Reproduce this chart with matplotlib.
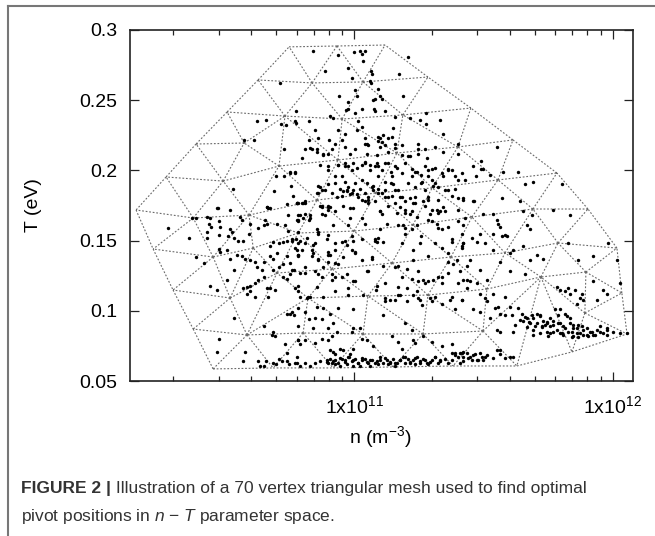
import numpy as np
import matplotlib.pyplot as plt
import matplotlib.tri as mtri
from matplotlib.lines import Line2D

plt.rcParams['font.family'] = ['Liberation Sans', 'DejaVu Sans']
plt.rcParams['mathtext.fontset'] = 'custom'
plt.rcParams['mathtext.rm'] = 'Liberation Sans'
plt.rcParams['mathtext.it'] = 'Liberation Sans:italic'

# mesh vertices (log10 n, T)
hull_logn = [10.749, 10.934, 11.120, 11.286, 11.452, 11.615, 11.785, 11.905, 12.017,
             12.036, 12.056, 11.843, 11.630, 11.383, 11.151, 10.919, 10.687, 10.455,
             10.378, 10.300, 10.223, 10.157, 10.273, 10.389, 10.509, 10.629]
hull_T = [0.288, 0.2886, 0.2893, 0.2665, 0.2444, 0.2217, 0.1981, 0.1725, 0.1447,
          0.1127, 0.0835, 0.0707, 0.0607, 0.0607, 0.060, 0.0593, 0.0593, 0.0586,
          0.0870, 0.1148, 0.144, 0.1718, 0.1953, 0.2188, 0.2416, 0.2644]
inner_logn = [10.838, 11.035, 10.733, 10.954, 11.189, 10.575, 10.710, 10.494, 10.938,
              11.166, 11.402, 11.085, 11.302, 11.557, 10.378, 10.594, 10.857, 11.456,
              11.692, 10.455, 10.610, 10.702, 11.0, 11.228, 11.584, 11.789, 10.915,
              11.147, 11.375, 10.521, 10.822, 11.054, 11.286, 11.514, 11.723, 11.897,
              10.586, 10.803, 11.035, 11.267, 11.499, 11.893, 10.784]
inner_T = [0.2623, 0.263, 0.2387, 0.2366, 0.2395, 0.2195, 0.2031, 0.1924, 0.2074,
           0.2124, 0.2167, 0.1839, 0.1875, 0.1932, 0.1661, 0.1682, 0.1789, 0.1668,
           0.1725, 0.1383, 0.1447, 0.1269, 0.1568, 0.1611, 0.1412, 0.1483, 0.1298,
           0.134, 0.1383, 0.1091, 0.1091, 0.1105, 0.1112, 0.1155, 0.1241, 0.1276,
           0.0828, 0.0842, 0.0835, 0.0835, 0.0856, 0.0984, 0.1554]

# sampled (log10 n, T) points
pts_top = [
    (10.714, .262), (10.776, .242), (10.776, .234), (10.625, .235), (10.660, .236), (10.575, .222),
    (10.613, .222), (10.718, .233), (10.737, .232), (10.729, .215), (10.698, .196), (10.729, .196),
    (10.753, .198), (10.772, .198), (10.532, .187), (10.756, .189), (10.691, .185), (10.764, .182),
    (10.780, .177), (10.664, .174), (10.675, .173), (10.470, .173),
    (10.843, .285), (10.937, .282), (11.001, .284), (11.023, .285), (11.030, .283), (11.043, .285),
    (11.036, .278), (10.888, .271), (10.978, .273), (11.066, .271), (11.068, .269), (11.174, .269),
    (11.208, .281), (10.991, .266), (11.062, .264), (11.066, .262), (11.094, .258), (11.004, .257),
    (10.943, .253), (11.010, .253), (10.978, .249), (11.075, .250), (11.081, .251), (11.101, .253),
    (11.110, .251), (11.030, .244), (11.077, .244), (11.081, .242), (11.120, .242), (11.004, .241),
    (10.907, .239), (10.969, .243), (10.978, .244), (10.920, .237), (10.824, .235), (10.772, .235),
    (10.849, .229), (10.937, .229), (10.965, .226), (11.010, .229), (11.014, .235), (11.030, .231),
    (11.043, .223), (11.049, .219), (11.056, .218), (11.094, .224), (11.101, .223), (11.114, .225),
    (11.107, .220), (11.133, .223), (11.146, .224), (11.152, .230), (11.159, .238), (11.217, .237),
    (11.255, .236), (11.279, .233), (11.333, .236), (11.277, .241), (11.191, .253), (10.905, .222),
    (10.862, .223), (10.824, .222), (10.811, .215), (10.836, .215), (10.856, .213), (10.882, .211),
    (10.901, .212), (10.952, .222), (10.965, .217), (10.985, .212), (11.004, .215), (11.049, .212),
    (11.088, .211), (11.101, .217), (11.133, .213), (11.159, .216), (11.184, .218), (11.217, .210),
    (11.249, .215), (11.281, .209), (11.346, .226), (11.404, .219), (10.940, .204), (10.965, .203),
    (10.998, .205), (11.030, .204), (11.043, .206), (11.062, .200), (11.088, .205), (11.094, .203),
    (11.133, .205), (11.159, .203), (11.197, .205), (11.223, .201), (11.236, .199), (11.275, .203),
    (11.288, .200), (11.301, .201), (11.339, .198), (11.365, .201), (11.378, .200), (11.391, .196),
    (11.404, .193), (10.901, .200), (10.927, .196), (10.952, .196), (10.965, .192), (10.978, .188),
    (11.004, .191), (11.030, .193), (11.049, .191), (11.068, .188), (11.094, .196), (11.120, .192),
    (11.146, .196), (11.152, .190), (11.172, .186), (11.210, .191), (11.236, .188), (11.262, .192),
    (11.288, .196), (11.313, .191), (11.326, .188), (11.352, .186), (11.378, .182), (10.869, .188),
    (10.888, .186), (10.862, .184), (10.914, .184), (10.933, .181), (10.952, .182), (10.972, .185),
    (10.991, .184), (11.017, .181), (11.030, .179), (11.075, .186), (11.094, .184), (11.120, .181),
    (11.146, .182), (11.184, .181), (11.236, .177), (11.288, .179), (10.875, .175), (10.901, .174),
    (10.798, .177), (10.811, .177),
    (11.554, .217), (11.490, .207), (11.459, .203), (11.490, .201), (11.500, .201), (11.526, .197),
    (11.472, .196), (11.575, .199), (11.636, .199), (11.661, .190), (11.694, .192), (11.803, .190),
    (11.423, .179), (11.464, .178), (11.574, .180), (11.642, .178),
]
pts_center = [
    (10.830, .216), (10.855, .215), (10.881, .212), (10.913, .215), (10.926, .219), (11.042, .219),
    (11.094, .221), (11.120, .218), (11.158, .219), (11.184, .211), (11.210, .210), (11.249, .212),
    (11.274, .215), (11.249, .219), (11.313, .217), (11.345, .213), (11.403, .212), (10.797, .209),
    (10.752, .199), (10.772, .199), (10.868, .204), (10.901, .203), (10.939, .204), (10.965, .205),
    (10.978, .203), (10.991, .200), (11.010, .202), (11.042, .205), (11.062, .204), (11.081, .203),
    (11.107, .200), (11.120, .205), (11.145, .199), (11.165, .202), (11.184, .198), (11.223, .196),
    (11.242, .199), (11.261, .197), (11.313, .202), (11.365, .200), (11.416, .198), (11.429, .193),
    (11.345, .196), (11.300, .193), (11.307, .189), (11.261, .191), (11.274, .186), (10.862, .189),
    (10.875, .186), (10.855, .184), (10.901, .190), (10.926, .191), (10.946, .187), (10.959, .185),
    (10.971, .186), (10.984, .183), (10.997, .186), (11.010, .183), (11.023, .187), (11.042, .184),
    (11.055, .181), (11.075, .189), (11.094, .187), (11.107, .184), (11.120, .186), (11.133, .181),
    (11.145, .191), (11.158, .186), (11.178, .181), (11.197, .178), (11.216, .180), (11.236, .181),
    (11.268, .178), (11.287, .181), (11.326, .179), (11.365, .186), (11.390, .187), (11.403, .180),
    (11.423, .180), (10.785, .177), (10.804, .177), (10.746, .168), (10.785, .165), (10.804, .166),
    (10.830, .168), (10.875, .174), (10.901, .172), (10.926, .171), (10.959, .175), (10.984, .166),
    (10.978, .161), (11.055, .179), (11.100, .171), (11.133, .175), (11.165, .170), (11.197, .170),
    (11.223, .171), (11.242, .167), (11.300, .172), (11.326, .170), (11.352, .171), (11.403, .164),
    (11.429, .166), (10.746, .157), (10.759, .151), (10.772, .145), (10.810, .148), (10.843, .147),
    (10.862, .155), (10.894, .151), (10.926, .143), (10.952, .149), (10.991, .153), (11.029, .151),
    (11.081, .151), (11.100, .158), (11.126, .162), (11.191, .161), (11.223, .158), (11.261, .153),
    (11.320, .162), (11.339, .158), (11.378, .151), (11.416, .146), (10.785, .140), (10.836, .139),
    (10.862, .136), (10.901, .140), (10.926, .134), (10.959, .138), (11.004, .142), (11.068, .138),
    (11.113, .132), (11.171, .132), (11.229, .136), (11.287, .139), (11.365, .141), (11.397, .136),
    (11.436, .132), (10.759, .129), (10.810, .127), (10.862, .126), (10.913, .122), (10.952, .124),
    (11.004, .121), (11.055, .128), (11.120, .120), (11.171, .117), (11.223, .123), (11.274, .120),
    (11.326, .124), (11.403, .120), (11.365, .127), (11.436, .122), (10.823, .110), (10.881, .110),
    (10.926, .114), (10.978, .111), (11.036, .111), (11.087, .115), (11.120, .109), (11.178, .111),
    (11.249, .109), (11.300, .107), (11.378, .110), (11.416, .108),
]
pts_left = [
    (10.472, .173), (10.521, .172), (10.663, .174), (10.669, .173), (10.740, .176), (10.779, .177),
    (10.372, .166), (10.389, .166), (10.430, .167), (10.443, .166), (10.476, .164), (10.439, .162),
    (10.447, .160), (10.482, .160), (10.559, .167), (10.566, .165), (10.656, .165), (10.650, .161),
    (10.663, .162), (10.630, .159), (10.701, .162), (10.733, .161), (10.779, .165), (10.785, .168),
    (10.282, .159), (10.360, .152), (10.430, .156), (10.430, .152), (10.479, .154), (10.521, .158),
    (10.527, .156), (10.514, .153), (10.534, .152), (10.553, .150), (10.572, .150), (10.592, .155),
    (10.598, .162), (10.476, .144), (10.482, .142), (10.508, .143), (10.546, .140), (10.566, .139),
    (10.579, .137), (10.598, .136), (10.617, .135), (10.650, .135), (10.675, .139), (10.688, .137),
    (10.701, .141), (10.675, .146), (10.688, .149), (10.708, .148), (10.727, .149), (10.740, .150),
    (10.759, .150), (10.775, .151), (10.785, .148), (10.779, .143), (10.785, .140), (10.740, .139),
    (10.753, .134), (10.727, .133), (10.389, .138), (10.421, .134), (10.521, .137), (10.534, .129),
    (10.624, .131), (10.643, .129), (10.688, .129), (10.708, .131), (10.727, .124), (10.766, .129),
    (10.791, .127), (10.443, .118), (10.469, .115), (10.508, .122), (10.572, .116), (10.585, .117),
    (10.598, .118), (10.617, .120), (10.630, .122), (10.650, .124), (10.663, .116), (10.675, .116),
    (10.695, .115), (10.740, .123), (10.753, .126), (10.772, .116), (10.785, .114), (10.669, .110),
    (10.617, .110), (10.598, .114), (10.585, .112), (10.534, .095), (10.650, .089), (10.682, .083),
    (10.688, .085), (10.695, .082), (10.740, .098), (10.753, .098), (10.759, .099), (10.766, .097),
    (10.785, .102), (10.479, .080), (10.469, .071), (10.579, .071), (10.733, .076), (10.740, .070),
    (10.785, .079), (10.779, .067),
]
pts_mid = [
    (10.778, .177), (10.811, .178), (10.869, .175), (10.901, .175), (10.907, .174), (10.985, .173),
    (10.998, .173), (11.043, .178), (11.056, .177), (11.081, .178), (11.101, .171), (11.107, .169),
    (11.159, .177), (11.178, .174), (11.197, .172), (11.217, .169), (11.230, .177), (11.275, .175),
    (11.294, .169), (11.320, .172), (11.333, .171), (11.346, .174), (11.404, .172), (10.791, .168),
    (10.811, .169), (10.824, .165), (10.830, .166), (10.785, .164), (10.875, .169), (10.888, .168),
    (10.920, .161), (11.030, .166), (11.043, .162), (11.172, .161), (11.197, .159), (11.197, .155),
    (11.242, .161), (11.288, .165), (11.301, .164), (11.326, .159), (11.365, .160), (11.417, .155),
    (10.785, .156), (10.856, .158), (10.862, .156), (10.901, .154), (10.791, .150), (10.817, .152),
    (10.849, .148), (10.798, .143), (10.785, .139), (10.836, .143), (10.843, .141), (10.862, .137),
    (10.901, .142), (10.907, .140), (10.927, .148), (10.965, .150), (10.972, .147), (10.991, .143),
    (11.004, .141), (10.998, .150), (11.081, .150), (11.088, .149), (11.094, .152), (11.114, .149),
    (11.184, .148), (11.230, .143), (11.255, .148), (11.313, .148), (11.339, .145), (11.378, .149),
    (11.417, .145), (11.423, .148), (10.811, .131), (10.849, .128), (10.882, .131), (10.901, .135),
    (10.940, .133), (10.972, .126), (11.030, .136), (11.049, .128), (11.068, .137), (11.159, .131),
    (11.184, .124), (11.204, .130), (11.249, .128), (11.249, .121), (11.268, .122), (11.288, .121),
    (11.307, .122), (11.339, .124), (11.339, .120), (11.365, .135), (11.384, .133), (11.410, .128),
    (10.785, .118), (10.856, .117), (10.875, .124), (10.914, .126), (10.927, .124), (10.978, .116),
    (10.998, .121), (11.088, .118), (11.120, .107), (11.139, .108), (11.159, .108), (11.172, .111),
    (11.204, .116), (11.230, .111), (11.242, .114), (11.255, .108), (11.262, .104), (11.204, .107),
    (11.294, .109), (11.313, .110), (11.339, .105), (11.371, .108), (11.391, .101), (11.417, .108),
    (10.791, .110), (10.817, .109), (10.830, .110), (10.856, .103), (10.882, .102), (10.940, .102),
    (10.998, .101), (11.114, .097), (10.811, .099), (10.824, .094), (10.849, .095), (10.875, .094),
    (10.907, .098), (10.920, .091), (10.843, .088), (10.901, .088), (10.933, .085), (10.998, .088),
    (11.023, .088), (10.785, .089), (10.785, .079), (10.811, .079), (10.791, .076), (10.849, .077),
    (10.875, .080), (10.901, .079), (10.914, .082), (10.991, .085), (11.030, .080), (11.049, .079),
    (11.075, .075), (11.146, .082), (11.172, .078), (11.184, .073), (11.197, .091), (11.223, .086),
    (11.230, .079), (11.236, .077), (11.268, .082), (11.301, .078), (11.339, .075), (11.378, .076),
    (10.907, .072), (10.920, .071), (10.946, .073), (10.959, .072), (10.998, .073), (10.985, .069),
    (10.927, .069), (10.907, .066),
]
pts_floor = [
    (10.572, .064), (10.630, .064), (10.637, .061), (10.650, .061), (10.688, .063), (10.740, .064),
    (10.772, .063), (10.660, .064), (10.700, .062), (10.720, .064), (10.750, .062), (10.710, .066),
    (10.778, .063), (10.791, .061), (10.811, .063), (10.830, .061), (10.849, .063), (10.869, .064),
    (10.894, .065), (10.901, .063), (10.920, .064), (10.940, .063), (10.952, .066), (10.965, .065),
    (10.978, .067), (10.991, .064), (11.004, .066), (11.017, .063), (11.030, .065), (11.043, .066),
    (11.056, .063), (11.068, .065), (11.088, .064), (11.101, .067), (11.114, .063), (11.126, .065),
    (11.139, .063), (11.152, .066), (11.165, .063), (11.178, .065), (11.191, .067), (11.210, .066),
    (11.217, .063), (11.230, .065), (11.242, .067), (11.255, .064), (11.268, .066), (11.281, .063),
    (11.301, .065), (11.313, .067), (11.333, .064), (11.352, .066), (11.378, .065), (11.391, .070),
    (11.404, .067), (11.417, .070), (11.423, .064), (11.410, .063), (10.927, .062), (10.946, .061),
    (10.972, .062), (10.998, .061), (11.023, .061), (11.062, .061), (11.094, .062), (11.133, .062),
    (11.159, .061), (11.197, .063), (11.236, .062), (11.288, .062), (11.326, .063), (11.365, .063),
    (11.423, .071), (11.436, .070), (11.449, .067), (11.468, .069), (11.487, .070), (11.507, .067),
    (11.455, .065), (11.481, .065), (11.500, .065), (11.552, .072), (11.565, .069), (11.603, .067),
    (11.616, .067),
    (10.895, .0637), (10.914, .0625), (10.927, .0649), (10.946, .0661), (10.966, .0637),
    (10.979, .0673), (10.998, .0649), (11.017, .0625), (11.030, .0661), (11.049, .0637),
    (11.062, .0649), (11.082, .0625), (11.101, .0649), (11.120, .0661), (11.140, .0637),
    (11.159, .0625), (11.178, .0649), (11.198, .0673), (11.217, .0637), (11.236, .0661),
    (11.256, .0625), (11.275, .0649), (11.294, .0637), (11.314, .0673), (11.333, .0649),
    (11.378, .0697), (11.391, .0685), (11.410, .0697), (11.423, .0673), (11.442, .0661),
    (11.462, .0685), (11.475, .0649), (11.494, .0673), (11.513, .0685), (11.539, .0661),
    (11.565, .0720), (11.584, .0661),
]
pts_right = [
    (11.462, .178), (11.500, .169), (11.539, .169), (11.655, .171), (11.687, .168), (11.771, .172),
    (11.835, .168), (11.552, .165), (11.558, .162), (11.565, .160), (11.423, .161), (11.668, .161),
    (11.681, .158), (11.539, .155), (11.571, .153), (11.584, .154), (11.590, .153), (11.455, .152),
    (11.474, .149), (11.487, .155), (11.507, .148), (11.423, .148), (11.539, .143), (11.655, .146),
    (11.603, .141), (11.616, .143), (11.706, .140), (11.681, .136), (11.732, .137), (11.829, .148),
    (11.868, .136), (11.926, .139), (11.984, .148), (11.449, .136), (11.487, .129), (11.565, .135),
    (11.603, .128), (11.661, .126), (11.423, .122), (11.449, .121), (11.474, .120), (11.513, .122),
    (11.436, .116), (11.487, .112), (11.507, .109), (11.539, .112), (11.584, .110), (11.603, .103),
    (11.558, .103), (11.545, .102), (11.513, .107), (11.462, .101), (11.487, .099), (11.526, .095),
    (11.565, .098), (11.584, .097), (11.610, .097), (11.636, .102), (11.623, .090), (11.655, .093),
    (11.668, .095), (11.687, .097), (11.706, .098), (11.719, .096), (11.648, .098), (11.732, .093),
    (11.745, .091), (11.777, .101), (11.790, .097), (11.797, .101), (11.816, .098), (11.822, .096),
    (11.835, .095), (11.797, .115), (11.784, .117), (11.816, .114), (11.829, .116), (11.835, .112),
    (11.855, .115), (11.880, .112), (11.874, .109), (11.887, .108), (11.861, .105), (11.939, .108),
    (12.029, .120), (12.016, .136), (11.926, .121), (11.964, .115), (11.977, .112), (11.681, .091),
    (11.700, .089), (11.726, .089), (11.739, .090), (11.758, .089), (11.771, .093), (11.790, .091),
    (11.810, .089), (11.835, .091), (11.848, .088), (11.868, .090), (11.880, .089), (11.900, .088),
    (11.919, .085), (11.932, .083), (11.887, .083), (11.861, .084), (11.842, .085), (11.810, .083),
    (11.797, .084), (11.771, .085), (11.745, .085), (11.719, .084), (11.694, .083), (11.752, .082),
    (11.848, .082), (11.906, .082), (11.951, .085), (11.977, .086), (12.003, .085), (12.029, .084),
    (12.055, .084), (11.951, .089), (11.977, .083), (11.565, .085), (11.552, .086), (11.616, .085),
    (11.642, .0934), (11.660, .0958), (11.675, .0922), (11.694, .0946), (11.707, .0910),
    (11.719, .0970), (11.726, .0887), (11.745, .0922), (11.758, .0946), (11.771, .0898),
    (11.784, .0863), (11.797, .0910), (11.816, .0875), (11.829, .0851), (11.848, .0898),
    (11.861, .0875), (11.874, .0839), (11.887, .0863), (11.900, .0827), (11.913, .0851),
    (11.926, .0827), (11.939, .0863), (11.964, .0839), (11.977, .0875), (11.694, .0863),
    (11.668, .0887), (11.758, .0839), (11.803, .0839), (11.842, .0815), (11.868, .0815),
]

fig = plt.figure(figsize=(6.55, 5.36), dpi=100)
ax = fig.add_axes([130 / 655, 1 - 381 / 536, 503 / 655, 351 / 536])

v_logn = np.array(hull_logn + inner_logn)
v_T = np.array(hull_T + inner_T)
# triangulate in a space with roughly the on-screen aspect, drop flat border slivers
tri = mtri.Triangulation(v_logn, v_T * 5.43)
flat = mtri.TriAnalyzer(tri).get_flat_tri_mask(min_circle_ratio=0.08, rescale=False)
ax.triplot(10 ** v_logn, v_T, tri.triangles[~flat], color='#6a6a6a', lw=0.8,
           linestyle=(0, (1.6, 1.6)), marker=None)

pts = np.array(pts_top + pts_center + pts_left + pts_mid + pts_floor + pts_right)
ax.scatter(10 ** pts[:, 0], pts[:, 1], s=6, c='black', linewidths=0, zorder=3)

ax.set_xscale('log')
ax.set_xlim(1.36e10, 1.2e12)
ax.set_ylim(0.05, 0.3)
ax.set_xticks([1e11, 1e12])
ax.set_xticklabels([r'1x10$^{11}$', r'1x10$^{12}$'])
ax.set_xticks([k * 1e10 for k in range(2, 10)] + [k * 1e11 for k in range(2, 10)], minor=True)
ax.set_xticklabels([], minor=True)
ax.set_yticks([0.05, 0.1, 0.15, 0.2, 0.25, 0.3])
ax.set_yticklabels(['0.05', '0.1', '0.15', '0.2', '0.25', '0.3'])
ax.tick_params(which='both', direction='in', top=True, right=True, width=0.9,
               labelsize=14, color='#222')
ax.tick_params(which='major', length=6.5)
ax.tick_params(which='minor', length=3.5)
ax.tick_params(axis='y', pad=9)
ax.tick_params(axis='x', pad=10)
for s in ax.spines.values():
    s.set_linewidth(1.2)
    s.set_color('#222')

fig.text(33 / 655, 1 - 205 / 536, 'T (eV)', rotation=90, ha='center', va='center', fontsize=14)
fig.text(380 / 655, 1 - 437 / 536, r'n (m$^{-3}$)', ha='center', va='center', fontsize=14)

# frame
fig.add_artist(Line2D([7.5 / 655, 1], [1 - 6 / 536, 1 - 6 / 536], color='#777', lw=1.5))
fig.add_artist(Line2D([7.5 / 655, 7.5 / 655], [0, 1 - 6 / 536], color='#777', lw=1.5))

cap = fig.text(21 / 655, 1 - 488 / 536, 'FIGURE 2 |', fontsize=12.5, fontweight='bold',
               va='center', color='#333')
ax.annotate(' Illustration of a 70 vertex triangular mesh used to find optimal',
            xy=(1, 0.5), xycoords=cap, va='center', fontsize=12.5, color='#333',
            annotation_clip=False)
fig.text(21 / 655, 1 - 516 / 536, r'pivot positions in $n$ $-$ $T$ parameter space.',
         fontsize=12.5, va='center', color='#333')

fig.savefig('out.png', dpi=100)
